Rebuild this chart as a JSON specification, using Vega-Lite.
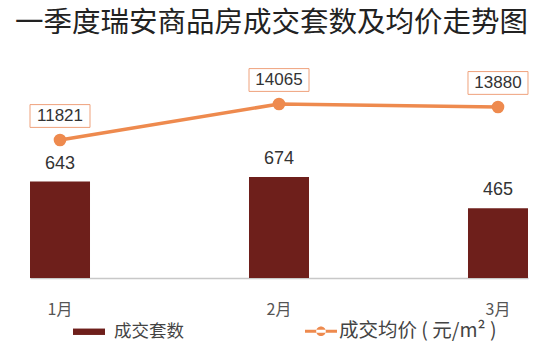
{
  "$schema": "https://vega.github.io/schema/vega-lite/v6.json",
  "autosize": {"type": "none"},
  "width": 498,
  "height": 238,
  "padding": {"left": 30, "top": 40, "right": 22, "bottom": 69},
  "background": "white",
  "config": {
    "view": {"stroke": null},
    "font": "Liberation Sans, Noto Sans CJK SC"
  },
  "title": {
    "text": "一季度瑞安商品房成交套数及均价走势图",
    "anchor": "start",
    "frame": "group",
    "dx": -15,
    "offset": 3,
    "fontSize": 28.5,
    "fontWeight": "normal",
    "color": "#222222",
    "font": "Noto Sans CJK SC"
  },
  "data": {
    "values": [
      {"month": "1月", "count": 643, "price": 11821},
      {"month": "2月", "count": 674, "price": 14065},
      {"month": "3月", "count": 465, "price": 13880}
    ]
  },
  "encoding": {
    "x": {
      "field": "month",
      "type": "nominal",
      "sort": null,
      "scale": {"paddingInner": 0.726, "paddingOuter": 0},
      "axis": {
        "title": null,
        "ticks": false,
        "labelAngle": 0,
        "labelFontSize": 16,
        "labelColor": "#555555",
        "labelPadding": 23,
        "labelFont": "Noto Sans CJK SC",
        "domainColor": "#c8c8c8",
        "domainWidth": 1.5,
        "grid": false
      }
    }
  },
  "layer": [
    {
      "mark": {"type": "bar", "color": "#6e1f1b"},
      "encoding": {
        "y": {"field": "count", "type": "quantitative", "scale": {"domain": [0, 1587]}, "axis": null},
        "color": {
          "datum": "成交套数",
          "type": "nominal",
          "scale": {"domain": ["成交套数", "成交均价 ( 元/m² )"], "range": ["#6e1f1b", "#ee8a4e"]},
          "legend": {
            "orient": "none",
            "legendX": 43,
            "legendY": 275,
            "direction": "horizontal",
            "title": null,
            "labelFontSize": 17.5,
            "labelColor": "#444444",
            "labelFont": "Noto Sans CJK SC",
            "labelLimit": 300,
            "labelOffset": 9,
            "columnPadding": 121,
            "symbolSize": 1024,
            "encoding": {
              "labels": {
                "fontSize": {"value": {"expr": "datum.value === '成交套数' ? 17.5 : 19.5"}},
                "dx": {"value": {"expr": "datum.value === '成交套数' ? 0 : -7"}}
              },
              "symbols": {
                "shape": {"value": {"expr": "datum.value === '成交套数' ? 'M-1,-0.2H1V0.2H-1Z' : 'M-1,-0.1H1V0.1H-1Z M-0.3,0A0.3,0.3 0 1,0 0.3,0A0.3,0.3 0 1,0 -0.3,0Z'"}},
                "fill": {"value": {"expr": "datum.value === '成交套数' ? '#6e1f1b' : '#ee8a4e'"}},
                "fillOpacity": {"value": 1},
                "strokeWidth": {"value": 0},
                "size": {"value": 1024}
              }
            }
          }
        }
      }
    },
    {
      "mark": {"type": "text", "fontSize": 18, "color": "#333333", "baseline": "middle", "dy": -18},
      "encoding": {
        "y": {"field": "count", "type": "quantitative", "scale": {"domain": [0, 1587]}, "axis": null},
        "text": {"field": "count", "type": "quantitative"}
      }
    },
    {
      "mark": {"type": "line", "strokeWidth": 3.5, "color": "#ee8a4e"},
      "encoding": {
        "y": {"field": "price", "type": "quantitative", "scale": {"domain": [3219, 18054]}, "axis": null},
        "color": {"datum": "成交均价 ( 元/m² )", "type": "nominal"}
      }
    },
    {
      "mark": {"type": "point", "filled": true, "size": 160, "color": "#ee8a4e", "opacity": 1},
      "encoding": {
        "y": {"field": "price", "type": "quantitative", "scale": {"domain": [3219, 18054]}, "axis": null}
      }
    },
    {
      "mark": {"type": "point", "shape": "M-1,-0.38H1V0.38H-1Z", "size": 3600, "filled": true, "fill": "#ffffff", "stroke": "#efa27c", "strokeWidth": 1, "opacity": 1, "yOffset": -24},
      "encoding": {
        "y": {"field": "price", "type": "quantitative", "scale": {"domain": [3219, 18054]}, "axis": null}
      }
    },
    {
      "mark": {"type": "text", "fontSize": 17, "color": "#333333", "baseline": "middle", "dy": -24},
      "encoding": {
        "y": {"field": "price", "type": "quantitative", "scale": {"domain": [3219, 18054]}, "axis": null},
        "text": {"field": "price", "type": "quantitative", "format": "d"}
      }
    }
  ],
  "resolve": {"scale": {"y": "independent"}}
}
